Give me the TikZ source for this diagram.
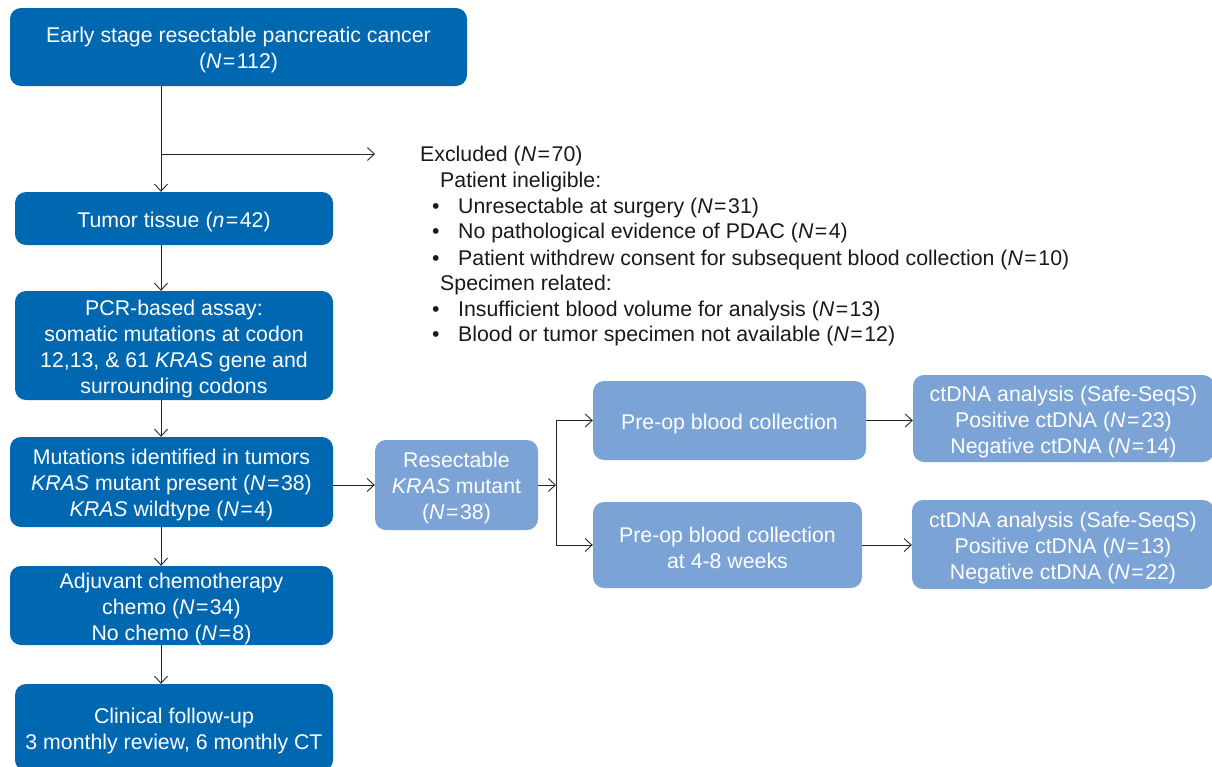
\documentclass[tikz,border=0pt]{standalone}
\usepackage{fontspec}
\setmainfont{Liberation Sans}
\usetikzlibrary{arrows.meta}
\definecolor{dblue}{HTML}{0067B1}
\definecolor{lblue}{HTML}{7BA3D5}
\newcommand{\eqN}[1]{\textit{N}\kern1.5pt=\kern1.5pt#1}
\newcommand{\fs}{\rule{0pt}{21.5pt}}
\begin{document}
\begin{tikzpicture}[x=1pt,y=-1pt,
  base/.style={align=center, inner sep=0pt, text=white, rounded corners=11pt,
    font=\fontsize{21.3}{26}\selectfont},
  dbox/.style={base, fill=dblue},
  lbox/.style={base, fill=lblue},
  arr/.style={-{Straight Barb[length=7pt,width=13pt]}, line width=0.9pt, draw=black!85},
  ln/.style={draw=black!85, line width=0.9pt},
  txt/.style={anchor=west, inner sep=0pt, font=\fontsize{21.3}{25}\selectfont, text height=20pt, text depth=4.5pt, text=black!90}
]
\clip (0,0) rectangle (1212,766);
\useasboundingbox (0,0) rectangle (1212,766);

\node[dbox, minimum width=457pt, minimum height=78pt] (b1) at (238.5,47) {\fs Early stage resectable pancreatic cancer\\(\eqN{112})};
\node[dbox, minimum width=318pt, minimum height=53pt] (b2) at (174,218.5) {\fs Tumor tissue (\textit{n}\kern1.5pt=\kern1.5pt42)};
\node[dbox, minimum width=318pt, minimum height=109pt] (b3) at (174,345.5) {\fs PCR-based assay:\\somatic mutations at codon\\12,13, \& 61 \textit{KRAS} gene and\\surrounding codons};
\node[dbox, minimum width=323pt, minimum height=90pt] (b4) at (171.5,482) {\fs Mutations identified in tumors\\\textit{KRAS} mutant present (\eqN{38})\\\textit{KRAS} wildtype (\eqN{4})};
\node[dbox, minimum width=323pt, minimum height=79pt] (b5) at (171.5,605.5) {\fs Adjuvant chemotherapy\\chemo (\eqN{34})\\No chemo (\eqN{8})};
\node[dbox, minimum width=318pt, minimum height=87pt] (b6) at (174,727.5) {\fs Clinical follow-up\\3 monthly review, 6 monthly CT};

\node[lbox, minimum width=163pt, minimum height=90pt] (res) at (456.5,485) {\fs Resectable\\\textit{KRAS} mutant\\(\eqN{38})};
\node[lbox, minimum width=273pt, minimum height=79pt] (pre1) at (729.5,420.5) {\fs Pre-op blood collection};
\node[lbox, minimum width=269pt, minimum height=86pt] (pre2) at (727.5,545) {\fs Pre-op blood collection\\at 4-8 weeks};
\node[lbox, minimum width=301pt, minimum height=87pt] (ct1) at (1063.5,418.5) {\fs ctDNA analysis (Safe-SeqS)\\Positive ctDNA (\eqN{23})\\Negative ctDNA (\eqN{14})};
\node[lbox, minimum width=302pt, minimum height=89pt] (ct2) at (1063,544.5) {\fs ctDNA analysis (Safe-SeqS)\\Positive ctDNA (\eqN{13})\\Negative ctDNA (\eqN{22})};

% excluded text
\node[txt] (ex0) at (420,154) {Excluded (\eqN{70})};
\node[txt] (ex1) at (440,180) {Patient ineligible:};
\node[txt] (bu1) at (432,206) {\textbullet};
\node[txt] (ex2) at (458,206) {Unresectable at surgery (\eqN{31})};
\node[txt] (bu2) at (432,231) {\textbullet};
\node[txt] (ex3) at (458,231) {No pathological evidence of PDAC (\eqN{4})};
\node[txt] (bu3) at (432,258) {\textbullet};
\node[txt] (ex4) at (458,258) {Patient withdrew consent for subsequent blood collection (\eqN{10})};
\node[txt] (ex5) at (440,283) {Specimen related:};
\node[txt] (bu4) at (432,309) {\textbullet};
\node[txt] (ex6) at (458,309) {Insufficient blood volume for analysis (\eqN{13})};
\node[txt] (bu5) at (432,334) {\textbullet};
\node[txt] (ex7) at (458,334) {Blood or tumor specimen not available (\eqN{12})};

% connectors
\coordinate (col) at (161,0);
\coordinate (br) at (161,154);
\coordinate (exend) at (375,154);
\draw[arr] (b1.south -| col) -- (b2.north -| col);
\draw[arr] (br) -- (exend);
\draw[arr] (b2.south -| col) -- (b3.north -| col);
\draw[arr] (b3.south -| col) -- (b4.north -| col);
\draw[arr] (b4.south -| col) -- (b5.north -| col);
\draw[arr] (b5.south -| col) -- (b6.north -| col);
\draw[arr] (b4.east |- res.west) -- (res.west);

\coordinate (sp) at (556,485);
\draw[arr] (res.east) -- (sp);
\draw[ln] (pre1.west -| sp) -- (pre2.west -| sp);
\draw[arr] (pre1.west -| sp) -- (pre1.west);
\draw[arr] (pre2.west -| sp) -- (pre2.west);
\draw[arr] (pre1.east) -- (pre1.east -| ct1.west);
\draw[arr] (pre2.east) -- (pre2.east -| ct2.west);
\end{tikzpicture}
\end{document}
